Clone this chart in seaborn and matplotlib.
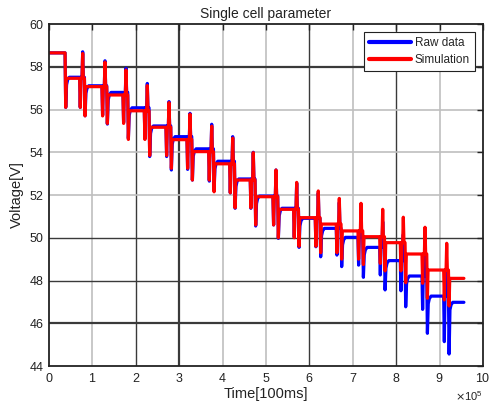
import matplotlib
matplotlib.use("Agg")
import matplotlib.pyplot as plt
import pandas as pd
import seaborn as sns

# Time stamps in 100 ms units
first_step = 37000          # first discharge step
pulse_times = [77600, 129000, 177400, 226500, 276500, 324900, 374900, 423300, 470700,
               523000, 570700, 620500, 668900, 718900, 768900, 816400, 866400, 916400]
end_time = 956000

# Rest voltage (V) of each plateau: initial one plus one after every step
rest_raw = [58.65, 57.51, 57.11, 56.80, 56.08, 55.23, 54.73, 54.16, 53.58, 52.75,
            51.95, 51.38, 50.91, 50.44, 50.02, 49.55, 48.93, 48.21, 47.27, 46.98]
rest_sim = [58.65, 57.46, 57.07, 56.68, 55.94, 55.17, 54.59, 54.03, 53.46, 52.70,
            51.92, 51.33, 50.94, 50.64, 50.32, 50.05, 49.77, 49.24, 48.49, 48.10]

# Peak of each charge pulse
peak_raw = [58.70, 58.28, 57.93, 57.22, 56.37, 55.82, 55.31, 54.73, 54.00,
            53.17, 52.55, 52.10, 51.65, 51.20, 50.75, 50.15, 49.43, 48.49]
peak_sim = [58.62, 58.22, 57.85, 57.12, 56.32, 55.78, 55.22, 54.66, 53.98,
            53.17, 52.59, 52.19, 51.84, 51.61, 51.33, 50.96, 50.49, 49.74]

# Minimum of the short discharge pulse before each charge pulse
pre_raw = [56.10, 55.74, 55.40, 54.65, 53.80, 53.20, 52.65, 52.10, 51.38,
           50.60, 50.02, 49.58, 49.19, 48.72, 48.26, 47.52, 46.65, 45.14]
pre_sim = [56.10, 55.70, 55.35, 54.60, 53.85, 53.25, 52.70, 52.10, 51.40,
           50.60, 50.00, 49.60, 49.30, 49.00, 48.80, 48.45, 47.87, 47.09]

# Minimum at the start of each discharge step (first entry: initial step)
step_raw = [56.10, 55.71, 55.32, 54.65, 53.80, 53.17, 52.70, 52.23, 51.38, 50.55,
            49.97, 49.55, 49.11, 48.65, 48.15, 47.56, 46.77, 45.53, 44.56]
step_sim = [56.10, 55.70, 55.35, 54.60, 53.85, 53.25, 52.70, 52.15, 51.40, 50.60,
            50.00, 49.60, 49.30, 49.00, 48.75, 48.45, 47.90, 47.17, 46.81]


def trace(rest, peak, pre, step, relax):
    t = [0, first_step]
    v = [rest[0], rest[0]]

    def discharge(t0, low, target):
        t.append(t0 + 1500); v.append(low)
        if relax:
            t.extend([t0 + 3500, t0 + 6000, t0 + 10000])
            v.extend([target - 0.35, target - 0.12, target])
        else:
            t.append(t0 + 3000); v.append(target)

    discharge(first_step, step[0], rest[1])
    for k, tp in enumerate(pulse_times):
        lvl = rest[k + 1]
        t.extend([tp - 7000, tp - 5500, tp - 4000, tp - 1500, tp, tp + 1500, tp + 4000])
        v.extend([lvl, pre[k], lvl, lvl, peak[k], lvl, lvl])
        discharge(tp + 4000, step[k + 1], rest[k + 2])
    t.append(end_time); v.append(rest[-1])
    return t, v


t_raw, v_raw = trace(rest_raw, peak_raw, pre_raw, step_raw, relax=True)
t_sim, v_sim = trace(rest_sim, peak_sim, pre_sim, step_sim, relax=False)

df = pd.concat([
    pd.DataFrame({"time": t_raw, "voltage": v_raw, "series": "Raw data"}),
    pd.DataFrame({"time": t_sim, "voltage": v_sim, "series": "Simulation"}),
], ignore_index=True)

sns.set_style("white")
plt.rcParams["font.family"] = ["Liberation Sans", "DejaVu Sans"]

fig = plt.figure(figsize=(4.9, 4.17), dpi=100)
ax = fig.add_axes([0.100, 0.1223, 0.8857, 0.8201])

# Grid lines, drawn behind the data
light, dark = "#bfbfbf", "#3a3a3a"
v_grid = [(1, light, 1.2), (2, dark, 1.0), (3, dark, 1.6), (4, light, 1.2), (5, light, 1.2),
          (6, dark, 1.0), (7, light, 1.2), (8, dark, 1.0), (9, light, 1.2)]
h_grid = [(46, dark, 1.6), (48, dark, 1.0), (50, dark, 1.0), (52, light, 1.2),
          (54, light, 1.2), (56, light, 1.2), (58, dark, 1.6)]
for x, c, w in v_grid:
    ax.axvline(x * 1e5, color=c, lw=w, zorder=0)
for y, c, w in h_grid:
    ax.axhline(y, color=c, lw=w, zorder=0)

sns.lineplot(data=df, x="time", y="voltage", hue="series",
             palette={"Raw data": "#0000ff", "Simulation": "#ff0000"},
             estimator=None, sort=False, lw=2.3, ax=ax)

ax.set_xlim(0, 1e6)
ax.set_ylim(44, 60)
ax.set_xticks([i * 1e5 for i in range(11)])
ax.set_yticks(range(44, 61, 2))
ax.ticklabel_format(axis="x", style="sci", scilimits=(5, 5), useMathText=True)
ax.xaxis.get_offset_text().set_fontsize(8)
ax.xaxis.get_offset_text().set_color("#333333")

ax.tick_params(direction="in", top=True, right=True, length=4, width=1.0,
               colors="#222222", labelcolor="#222222", labelsize=9, pad=4)
for s in ax.spines.values():
    s.set_color("#222222")
    s.set_linewidth(1.3)

ax.set_title("Single cell parameter", fontsize=10, color="#222222", pad=4)
ax.set_xlabel("Time[100ms]", fontsize=10.5, color="#222222", labelpad=2)
ax.set_ylabel("Voltage[V]", fontsize=10.5, color="#222222", labelpad=4)

handles, labels = ax.get_legend_handles_labels()
leg = ax.legend(handles, labels, loc="upper right", fontsize=8.5, frameon=True,
                fancybox=False, edgecolor="#222222", framealpha=1,
                handlelength=3.6, handletextpad=0.3, borderpad=0.4,
                labelspacing=0.45, borderaxespad=0.7)
leg.get_frame().set_linewidth(0.8)
for line in leg.get_lines():
    line.set_linewidth(3)

fig.savefig("out.png", dpi=100)
